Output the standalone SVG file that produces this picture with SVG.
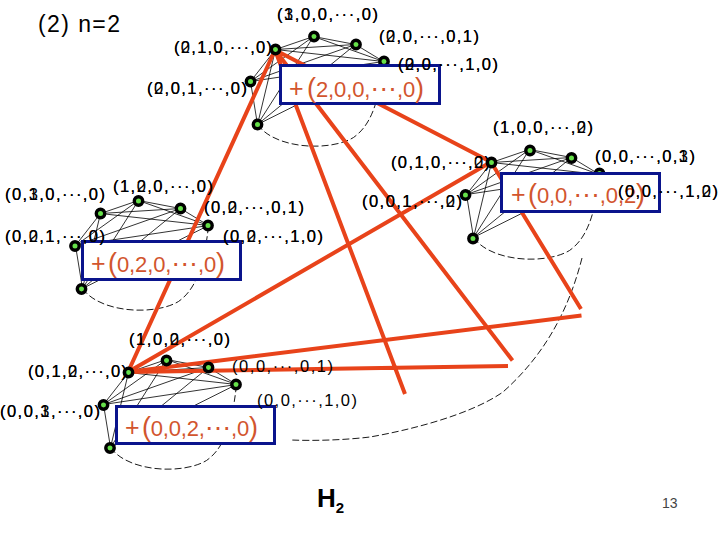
<svg xmlns="http://www.w3.org/2000/svg" xmlns:xlink="http://www.w3.org/1999/xlink" width="720" height="540" viewBox="0 0 720 540">
<style>
.e{stroke:#000;stroke-width:.8;fill:none}
.d{stroke:#000;stroke-width:.9;fill:none;stroke-dasharray:7 3}
.r{stroke:#e8431a;stroke-width:4;fill:none;stroke-linecap:butt}
.n{fill:#66e04a;stroke:#000;stroke-width:3.4}
.b{fill:#fff;stroke:#0a148c;stroke-width:3}
.l{font-family:"Liberation Sans",Arial,sans-serif;font-size:16.5px;fill:#000}
.p{font-family:"Liberation Sans",Arial,sans-serif;font-size:22px;fill:#d2552e}
.q{font-size:27px}
.o{font-size:27px}
.h{font-family:"Liberation Sans",Arial,sans-serif;fill:#000}
</style>
<defs>
<g id="k">
<path class="e" d="M0,0L38,-13L80,-5L108,12L-25,32L-18,75M0,0L80,-5M0,0L108,12M0,0L-25,32M0,0L-18,75M38,-13L108,12M38,-13L-25,32M38,-13L-18,75M80,-5L-25,32M80,-5L-18,75M108,12L-18,75"/>
<path class="d" d="M-18,75C0,100 55,102 78,88C92,78 103,60 108,12"/>
</g>
</defs>
<g id="connectors">
<use xlink:href="#k" href="#k" x="275.500" y="49.500"/>
<use xlink:href="#k" href="#k" x="100.500" y="213.500"/>
<use xlink:href="#k" href="#k" x="491.500" y="162.500"/>
<use xlink:href="#k" href="#k" x="128.500" y="372.500"/>
<path class="d" d="M582,258C570,305 548,352 503,392C470,415 410,430 370,437C345,440 315,441 291,440"/>
<path class="r" d="M275,50L128,372M275,50L405,394M275,50L512.500,360.500M275,50L491,162M491,162L128,372M491,162L581,309M128,372L581.500,315.500M128,372L508,366"/>
</g>
<g id="a1"><circle class="n" cx="275.500" cy="49.500" r="4.200"/></g>
<g id="a2"><circle class="n" cx="314" cy="36.500" r="4.200"/></g>
<g id="a3"><circle class="n" cx="356" cy="44.500" r="4.200"/></g>
<g id="a4"><circle class="n" cx="384" cy="61.500" r="4.200"/></g>
<g id="a5"><circle class="n" cx="250.500" cy="81.500" r="4.200"/></g>
<g id="a6"><circle class="n" cx="257.500" cy="124.500" r="4.200"/></g>
<g id="b1"><circle class="n" cx="100.500" cy="213.500" r="4.200"/></g>
<g id="b2"><circle class="n" cx="138.500" cy="201" r="4.200"/></g>
<g id="b3"><circle class="n" cx="180.500" cy="208.500" r="4.200"/></g>
<g id="b4"><circle class="n" cx="208" cy="225.500" r="4.200"/></g>
<g id="b5"><circle class="n" cx="75" cy="246" r="4.200"/></g>
<g id="b6"><circle class="n" cx="81.500" cy="289" r="4.200"/></g>
<g id="c1"><circle class="n" cx="491.500" cy="162.500" r="4.200"/></g>
<g id="c2"><circle class="n" cx="530" cy="150.500" r="4.200"/></g>
<g id="c3"><circle class="n" cx="571.500" cy="158" r="4.200"/></g>
<g id="c4"><circle class="n" cx="599.500" cy="173.500" r="4.200"/></g>
<g id="c5"><circle class="n" cx="465.500" cy="195" r="4.200"/></g>
<g id="c6"><circle class="n" cx="473" cy="238.500" r="4.200"/></g>
<g id="d1"><circle class="n" cx="128.500" cy="372.500" r="4.200"/></g>
<g id="d2"><circle class="n" cx="166.500" cy="360.500" r="4.200"/></g>
<g id="d3"><circle class="n" cx="208.500" cy="367.500" r="4.200"/></g>
<g id="d4"><circle class="n" cx="236" cy="384.500" r="4.200"/></g>
<g id="d5"><circle class="n" cx="103.500" cy="405" r="4.200"/></g>
<g id="d6"><circle class="n" cx="110" cy="448" r="4.200"/></g>
<g id="box-a"><rect class="b" x="280.500" y="65.500" width="159" height="38"/><text class="p" x="289" y="97" style="font-size:25px">+</text><text class="p" x="307" y="97" textLength="117"><tspan class="q">(</tspan>2,0,0,<tspan class="o">···</tspan>,0<tspan class="q">)</tspan></text></g>
<g id="box-b"><rect class="b" x="82.500" y="241.500" width="158" height="38"/><text class="p" x="91" y="272" style="font-size:25px">+</text><text class="p" x="108" y="272" textLength="117"><tspan class="q">(</tspan>0,2,0,<tspan class="o">···</tspan>,0<tspan class="q">)</tspan></text></g>
<g id="box-c"><rect class="b" x="501.500" y="173.500" width="158" height="38"/><text class="p" x="511" y="203" style="font-size:25px">+</text><text class="p" x="528" y="203" textLength="117"><tspan class="q">(</tspan>0,0,<tspan class="o">···</tspan>,0,2<tspan class="q">)</tspan></text></g>
<g id="box-d"><rect class="b" x="116.500" y="406.500" width="158" height="37"/><text class="p" x="125" y="436" style="font-size:25px">+</text><text class="p" x="142" y="436" textLength="116"><tspan class="q">(</tspan>0,0,2,<tspan class="o">···</tspan>,0<tspan class="q">)</tspan></text></g>
<g id="labels-a">
<text class="l" x="277" y="20" textLength="101">(1,0,0,···,0)</text><text class="l" x="277" y="20" textLength="101">(3,0,0,···,0)</text>
<text class="l" x="174" y="53" textLength="98">(2,1,0,···,0)</text><text class="l" x="174" y="53" textLength="98">(0,1,0,···,0)</text>
<text class="l" x="379" y="42" textLength="100">(2,0,···,0,1)</text><text class="l" x="379" y="42" textLength="100">(0,0,···,0,1)</text>
<text class="l" x="398" y="70" textLength="100">(2,0,···,1,0)</text><text class="l" x="398" y="70" textLength="100">(0,0,···,1,0)</text>
<text class="l" x="147" y="94" textLength="100">(2,0,1,···,0)</text><text class="l" x="147" y="94" textLength="100">(0,0,1,···,0)</text>
</g>
<g id="labels-b">
<text class="l" x="5" y="200" textLength="100">(0,1,0,···,0)</text><text class="l" x="5" y="200" textLength="100">(0,3,0,···,0)</text>
<text class="l" x="113" y="192" textLength="100">(1,2,0,···,0)</text><text class="l" x="113" y="192" textLength="100">(1,0,0,···,0)</text>
<text class="l" x="204" y="213" textLength="100">(0,2,···,0,1)</text><text class="l" x="204" y="213" textLength="100">(0,0,···,0,1)</text>
<text class="l" x="223" y="242" textLength="100">(0,2,···,1,0)</text><text class="l" x="223" y="242" textLength="100">(0,0,···,1,0)</text>
<text class="l" x="5" y="242" textLength="100">(0,2,1,···,0)</text><text class="l" x="5" y="242" textLength="100">(0,0,1,···,0)</text>
</g>
<g id="labels-c">
<text class="l" x="493" y="133" textLength="100">(1,0,0,···,2)</text><text class="l" x="493" y="133" textLength="100">(1,0,0,···,0)</text>
<text class="l" x="391" y="168" textLength="99">(0,1,0,···,2)</text><text class="l" x="391" y="168" textLength="99">(0,1,0,···,0)</text>
<text class="l" x="595" y="162" textLength="100">(0,0,···,0,3)</text><text class="l" x="595" y="162" textLength="100">(0,0,···,0,1)</text>
<text class="l" x="618" y="197" textLength="100">(0,0,···,1,2)</text><text class="l" x="618" y="197" textLength="100">(0,0,···,1,0)</text>
<text class="l" x="362" y="207" textLength="100">(0,0,1,···,2)</text><text class="l" x="362" y="207" textLength="100">(0,0,1,···,0)</text>
</g>
<g id="labels-d">
<text class="l" x="129" y="345" textLength="101">(1,0,2,···,0)</text><text class="l" x="129" y="345" textLength="101">(1,0,0,···,0)</text>
<text class="l" x="28" y="377" textLength="99">(0,1,2,···,0)</text><text class="l" x="28" y="377" textLength="99">(0,1,0,···,0)</text>
<text class="l" x="232" y="372" textLength="101">(0,0,···,0,1)</text>
<text class="l" x="257" y="406" textLength="100">(0,0,···,1,0)</text>
<text class="l" x="0" y="417" textLength="100">(0,0,3,···,0)</text><text class="l" x="0" y="417" textLength="100">(0,0,1,···,0)</text>
</g>
<text class="h" x="38" y="32" font-size="23" textLength="82">(2) n=2</text>
<text class="h" x="317" y="507" font-size="26" font-weight="bold">H<tspan font-size="15" dy="6">2</tspan></text>
<text class="h" x="662" y="508" font-size="14" style="fill:#444">13</text>
</svg>
